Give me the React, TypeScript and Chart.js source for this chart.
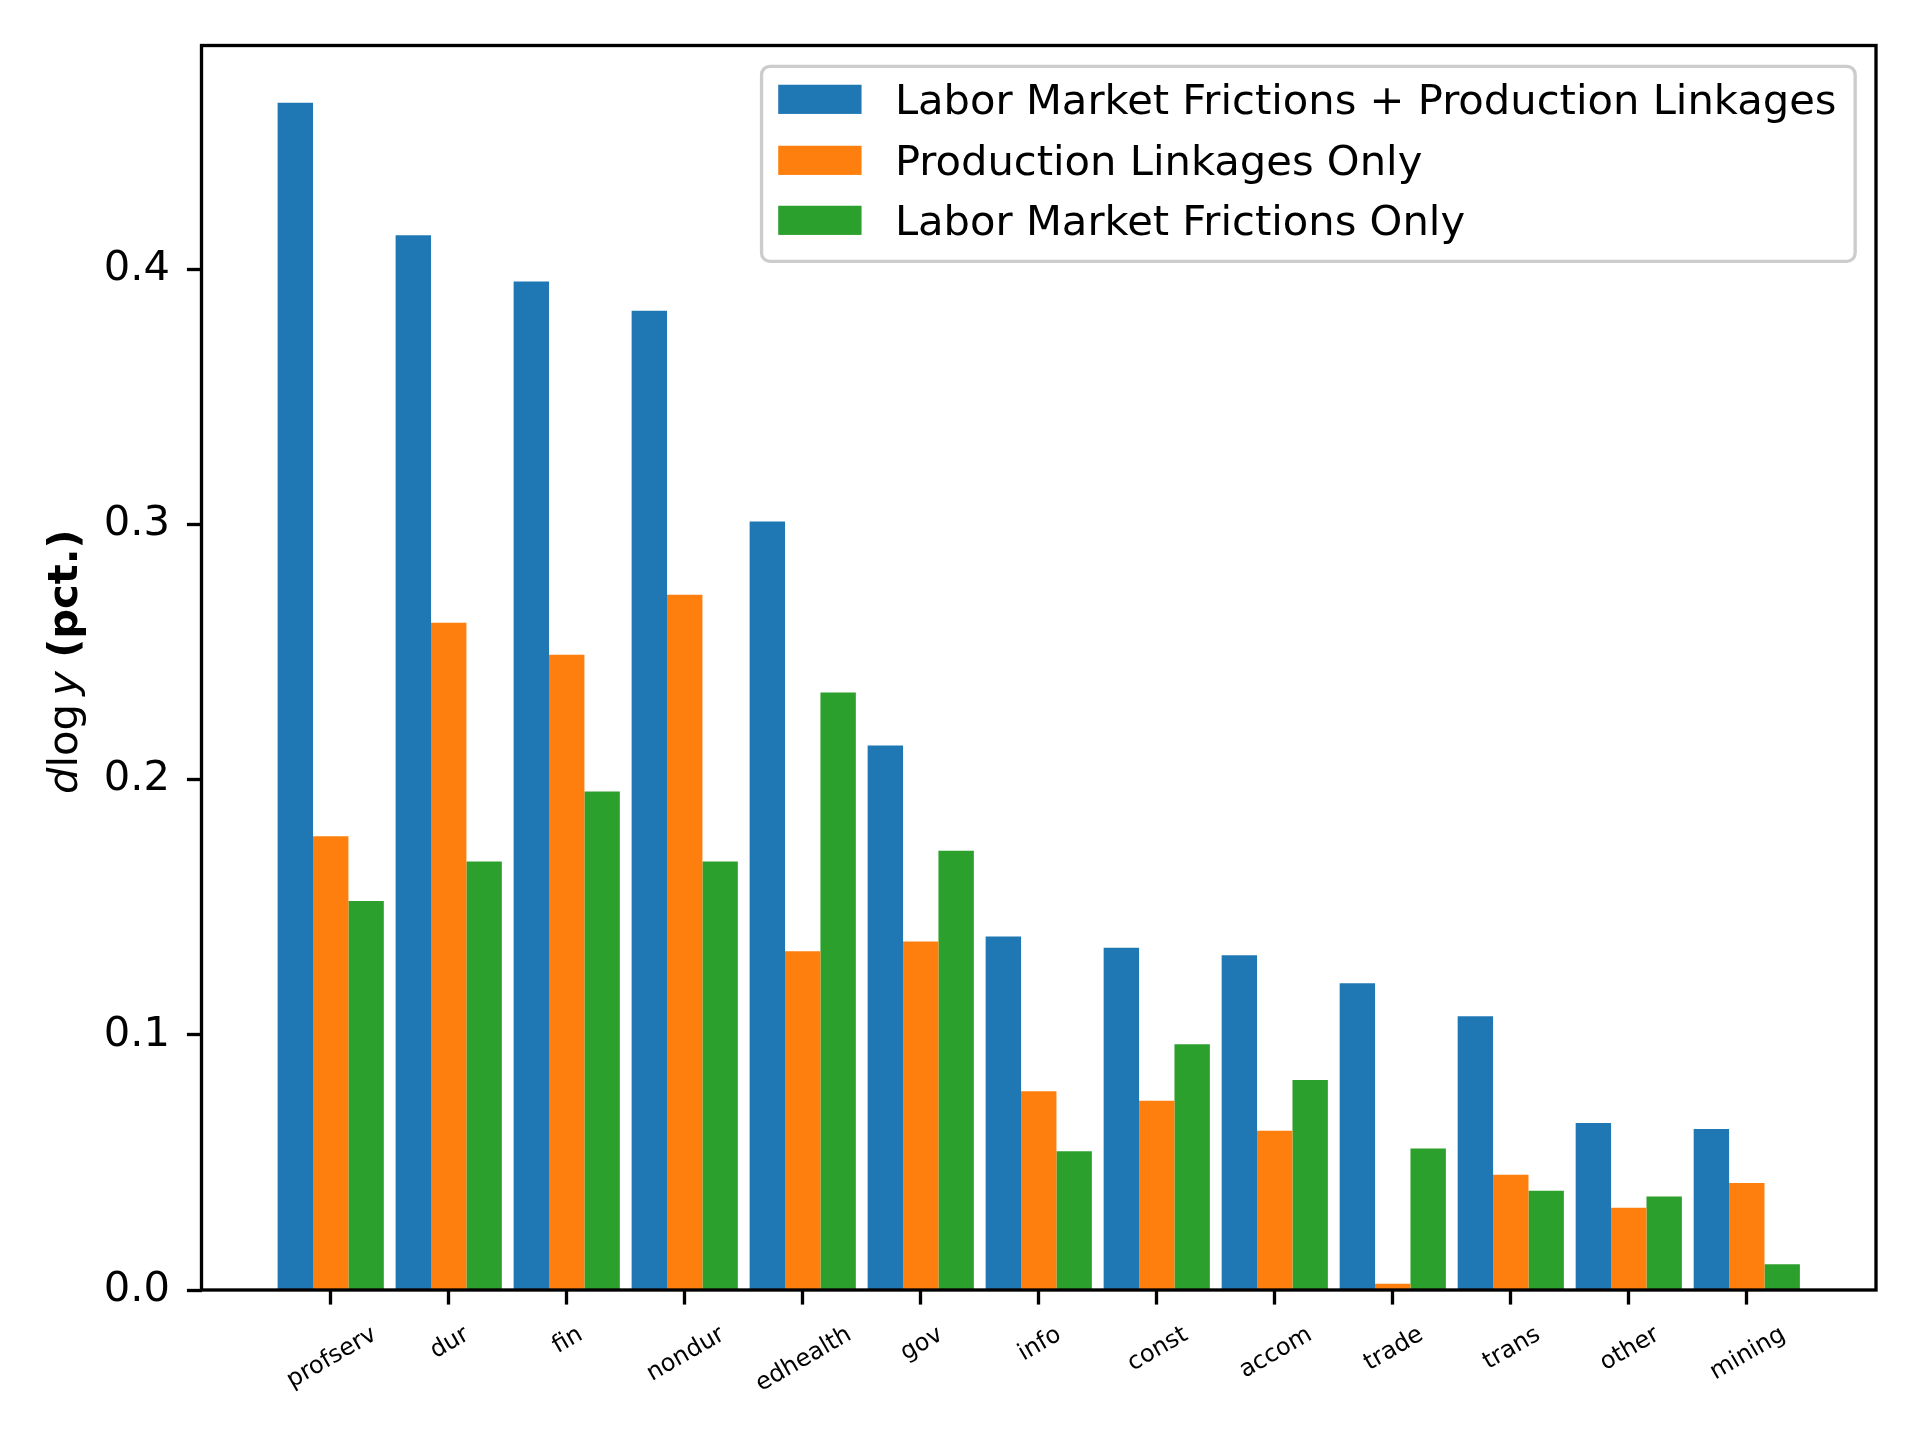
import React, { useEffect, useRef } from "react";
import { Chart, registerables } from "chart.js";

Chart.register(...registerables);

const categories = [
  "profserv", "dur", "fin", "nondur", "edhealth", "gov", "info",
  "const", "accom", "trade", "trans", "other", "mining",
];
const seriesLabels = [
  "Labor Market Frictions + Production Linkages",
  "Production Linkages Only",
  "Labor Market Frictions Only",
];
const bothValues = [0.4652, 0.4133, 0.3951, 0.3837, 0.3011, 0.2133, 0.1385, 0.1341, 0.1312, 0.1202, 0.1073, 0.0654, 0.0631];
const linkagesOnly = [0.1778, 0.2614, 0.2489, 0.2724, 0.1327, 0.1365, 0.0779, 0.0741, 0.0624, 0.0024, 0.0452, 0.0322, 0.0419];
const frictionsOnly = [0.1524, 0.1679, 0.1953, 0.1679, 0.2341, 0.1721, 0.0544, 0.0963, 0.0823, 0.0554, 0.0389, 0.0366, 0.0101];
const yTicks = [0, 0.1, 0.2, 0.3, 0.4];
const yMax = 0.4876;

const seriesColors = ["#1f77b4", "#ff7f0e", "#2ca02c"];

const PT = 300 / 72;
const FS = 10 * PT;
const XFS = 24;
const FAMILY = '"DejaVu Sans"';

export default function App() {
  const ref = useRef<HTMLCanvasElement>(null);

  useEffect(() => {
    const canvas = ref.current;
    if (!canvas) return;

    const custom = {
      id: "customDecor",
      afterDatasetsDraw(chart: any) {
        const { ctx, chartArea: a } = chart;
        ctx.save();
        // spines
        ctx.lineWidth = 0.8 * PT;
        ctx.strokeStyle = "#000";
        ctx.strokeRect(a.left, a.top, a.right - a.left, a.bottom - a.top);

        // legend
        ctx.font = `${FS}px ${FAMILY}`;
        const labels: string[] = chart.data.datasets.map((d: any) => d.label);
        const tw = Math.max(...labels.map((l) => ctx.measureText(l).width));
        const pad = 0.4 * FS;
        const hl = 2.0 * FS;
        const htp = 0.8 * FS;
        const w = pad + hl + htp + tw + pad + 2;
        const h = 195;
        const right = a.right - 0.5 * FS;
        const top = a.top + 0.5 * FS;
        const left = right - w;
        const r = 0.2 * FS;
        ctx.beginPath();
        ctx.moveTo(left + r, top);
        ctx.lineTo(right - r, top);
        ctx.arcTo(right, top, right, top + r, r);
        ctx.lineTo(right, top + h - r);
        ctx.arcTo(right, top + h, right - r, top + h, r);
        ctx.lineTo(left + r, top + h);
        ctx.arcTo(left, top + h, left, top + h - r, r);
        ctx.lineTo(left, top + r);
        ctx.arcTo(left, top, left + r, top, r);
        ctx.closePath();
        ctx.fillStyle = "rgba(255,255,255,0.8)";
        ctx.fill();
        ctx.lineWidth = 0.8 * PT;
        ctx.strokeStyle = "#cccccc";
        ctx.stroke();

        const rowOffsets = [33, 94, 154];
        chart.data.datasets.forEach((d: any, k: number) => {
          const cy = top + rowOffsets[k];
          ctx.fillStyle = d.backgroundColor;
          ctx.fillRect(left + pad, cy - 0.35 * FS, hl, 0.7 * FS);
          ctx.fillStyle = "#000";
          ctx.textAlign = "left";
          ctx.textBaseline = "alphabetic";
          ctx.fillText(d.label, left + pad + hl + htp, cy + 15);
        });
        ctx.restore();
      },
      afterDraw(chart: any) {
        const { ctx, chartArea: a } = chart;
        const xs = chart.scales.x;
        ctx.save();
        // x tick labels, rotated 30 degrees, centered on ticks
        ctx.font = `${XFS}px ${FAMILY}`;
        ctx.fillStyle = "#000";
        const ang = (30 * Math.PI) / 180;
        categories.forEach((c, i) => {
          const px = xs.getPixelForValue(i);
          const tw = ctx.measureText(c).width;
          const H = 1.164 * XFS;
          const bh = tw * Math.sin(ang) + H * Math.cos(ang);
          const cy = a.bottom + 7 * PT + bh / 2;
          ctx.save();
          ctx.translate(px, cy);
          ctx.rotate(-ang);
          ctx.textAlign = "center";
          ctx.textBaseline = "alphabetic";
          ctx.fillText(c, 0, 0.346 * XFS);
          ctx.restore();
        });

        // y axis title: d log y (pct.)
        const segs = [
          { t: "d", f: `italic ${FS}px ${FAMILY}` },
          { t: "log", f: `${FS}px ${FAMILY}` },
          { t: "\u2009", f: `${FS}px ${FAMILY}` },
          { t: "y", f: `italic ${FS}px ${FAMILY}` },
          { t: " ", f: `${FS}px ${FAMILY}` },
          { t: "(pct.)", f: `bold ${FS}px ${FAMILY}` },
        ];
        let total = 0;
        const widths = segs.map((s) => {
          ctx.font = s.f;
          const wv = ctx.measureText(s.t).width;
          total += wv;
          return wv;
        });
        ctx.translate(77, (a.top + a.bottom) / 2 - 6);
        ctx.rotate(-Math.PI / 2);
        ctx.textAlign = "left";
        ctx.textBaseline = "alphabetic";
        let x = -total / 2;
        segs.forEach((s, i) => {
          ctx.font = s.f;
          ctx.fillText(s.t, x, 0);
          x += widths[i];
        });
        ctx.restore();
      },
    };

    const values = [bothValues, linkagesOnly, frictionsOnly];
    const tickGrid = {
      drawOnChartArea: false,
      drawTicks: true,
      tickLength: 3.5 * PT,
      tickWidth: 0.8 * PT,
      tickColor: "#000",
      color: "#000",
      offset: false,
    };

    const chart = new Chart(canvas, {
      type: "bar",
      data: {
        datasets: values.map((vals, k) => ({
          label: seriesLabels[k],
          data: vals.map((v, i) => ({ x: i, y: v })),
          backgroundColor: seriesColors[k],
          borderWidth: 0,
          categoryPercentage: 0.9,
          barPercentage: 1.0,
        })),
      },
      options: {
        animation: false,
        responsive: false,
        devicePixelRatio: 1,
        layout: { padding: { top: 45.5, right: 44, left: 0, bottom: 0 } },
        plugins: {
          legend: { display: false },
          tooltip: { enabled: false },
          title: { display: false },
        },
        scales: {
          x: {
            type: "linear",
            min: -1.095,
            max: 13.095,
            offset: false,
            afterBuildTicks: (s: any) => {
              s.ticks = categories.map((_, i) => ({ value: i }));
            },
            afterFit: (s: any) => {
              s.height = 150;
            },
            ticks: { display: false },
            grid: tickGrid,
            border: { display: false },
          },
          y: {
            type: "linear",
            min: 0,
            max: yMax,
            offset: false,
            afterBuildTicks: (s: any) => {
              s.ticks = yTicks.map((v) => ({ value: v }));
            },
            afterFit: (s: any) => {
              s.width = 201.5;
            },
            ticks: {
              font: { family: "DejaVu Sans", size: FS },
              color: "#000",
              padding: 17,
              callback: (v: any) => Number(v).toFixed(1),
            },
            grid: tickGrid,
            border: { display: false },
          },
        },
      } as any,
      plugins: [custom],
    });

    return () => chart.destroy();
  }, []);

  return (
    <div style={{ position: "absolute", left: 0, top: 0, width: 1920, height: 1440, background: "#fff" }}>
      <canvas ref={ref} width={1920} height={1440} style={{ width: 1920, height: 1440, display: "block" }} />
    </div>
  );
}
